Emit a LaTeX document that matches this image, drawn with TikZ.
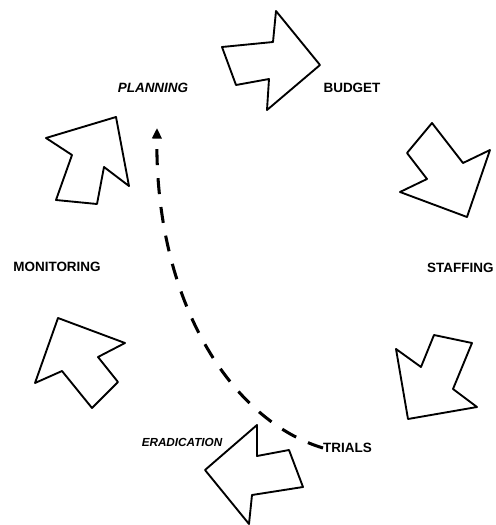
\documentclass[tikz,border=0pt]{standalone}
\usepackage{fontspec}
\setmainfont{Liberation Sans}
\usetikzlibrary{arrows.meta}
\tikzset{
  stage_lbl/.style={font=\bfseries\fontsize{11.5}{13}\selectfont,inner sep=0pt},
  stage_it/.style={font=\bfseries\itshape\fontsize{10}{12}\selectfont,inner sep=0pt},
  blk_arrow/.style={draw=black,fill=white,line width=1.6pt,line join=round},
  dash_arr/.style={-{Triangle[length=9pt,width=8pt]},line width=2.6pt,
    dash pattern=on 0.48cm off 0.39cm},
}
\begin{document}
\begin{tikzpicture}[x=0.03cm,y=-0.03cm]
    \useasboundingbox (0,0) rectangle (495,525);
    % stage labels
    \node[stage_it,font=\bfseries\itshape\fontsize{11.5}{13}\selectfont] (planning) at (153,88) {PLANNING};
    \node[stage_lbl] (budget) at (352,88) {BUDGET};
    \node[stage_lbl,anchor=west] (staffing) at (427,268) {STAFFING};
    \node[stage_lbl] (monitoring) at (57,267) {MONITORING};
    \node[stage_it] (eradication) at (182,442) {ERADICATION};
    \node[stage_lbl,anchor=west] (trials) at (323,448) {TRIALS};
    % block arrows round the cycle
    \draw[blk_arrow] (222,47) -- (273,42) -- (276,11) -- (320,65) -- (267,110) -- (269,79) -- (236,85) -- cycle;
    \draw[blk_arrow] (432,123) -- (463,163) -- (490,150) -- (467,217) -- (400,192) -- (427,179) -- (407,153) -- cycle;
    \draw[blk_arrow] (434,335) -- (472,343) -- (453,389) -- (477,407) -- (408,419) -- (396,349) -- (421,367) -- cycle;
    \draw[blk_arrow] (289,450) -- (303,487) -- (252,495) -- (249,524) -- (205,470) -- (257,425) -- (257,456) -- cycle;
    \draw[blk_arrow] (92,408) -- (62,371) -- (35,383) -- (58,318) -- (125,343) -- (98,357) -- (118,382) -- cycle;
    \draw[blk_arrow] (56,200) -- (72,155) -- (46,138) -- (116,117) -- (129,186) -- (104,167) -- (97,204) -- cycle;
    % dashed return arrow
    \coordinate (back_to) at (157,128);
    \draw[dash_arr] (trials.west) .. controls (230,420) and (155,300) .. (back_to);
\end{tikzpicture}
\end{document}
